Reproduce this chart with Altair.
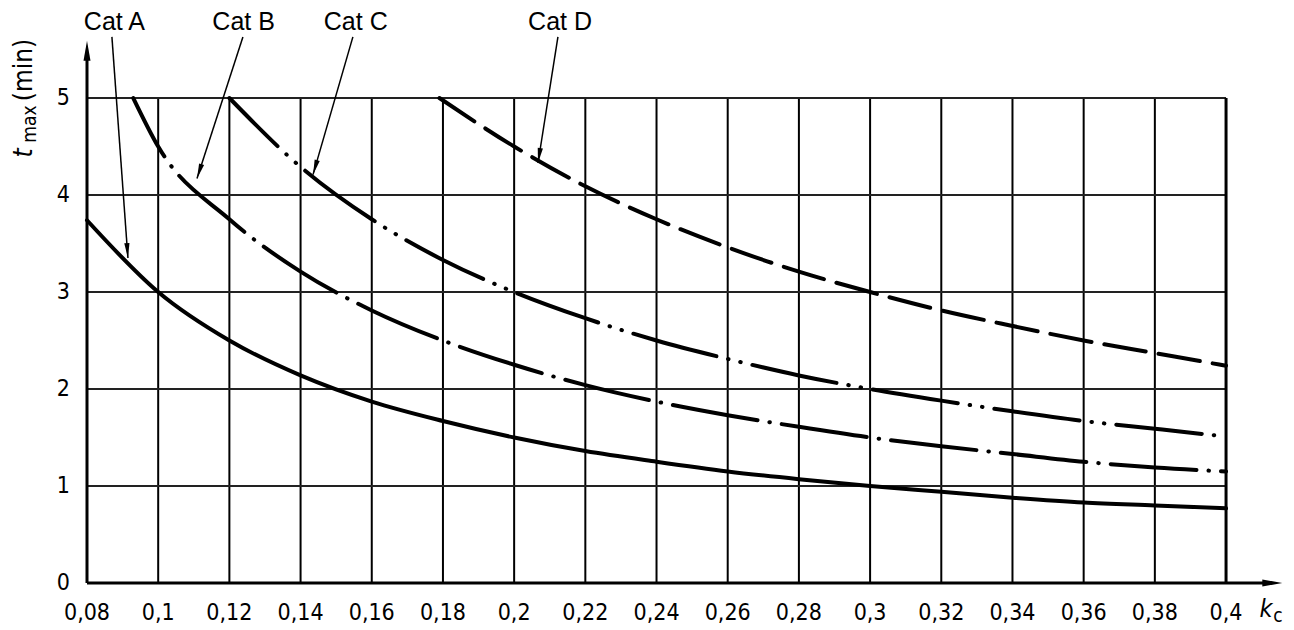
import math
import altair as alt
import pandas as pd

# ---------------- data ----------------
x_ticks = [0.08, 0.10, 0.12, 0.14, 0.16, 0.18, 0.20, 0.22, 0.24, 0.26,
           0.28, 0.30, 0.32, 0.34, 0.36, 0.38, 0.40]
y_ticks = [0, 1, 2, 3, 4, 5]

x_a = [0.08, 0.10, 0.12, 0.14, 0.16, 0.18, 0.20, 0.22, 0.24, 0.26,
       0.28, 0.30, 0.32, 0.34, 0.36, 0.38, 0.40]
t_a = [3.74, 3.0, 2.5, 2.14, 1.87, 1.67, 1.5, 1.36, 1.25, 1.15,
       1.07, 1.0, 0.94, 0.88, 0.83, 0.8, 0.77]

x_b = [0.093, 0.10, 0.12, 0.14, 0.16, 0.18, 0.20, 0.22, 0.24, 0.26,
       0.28, 0.30, 0.32, 0.34, 0.36, 0.38, 0.40]
t_b = [5.0, 4.5, 3.75, 3.21, 2.81, 2.5, 2.25, 2.04, 1.87, 1.73,
       1.61, 1.5, 1.41, 1.33, 1.25, 1.19, 1.15]

x_c = [0.12, 0.14, 0.16, 0.18, 0.20, 0.22, 0.24, 0.26, 0.28, 0.30,
       0.32, 0.34, 0.36, 0.38, 0.40]
t_c = [5.0, 4.29, 3.75, 3.33, 3.0, 2.73, 2.5, 2.31, 2.14, 2.0,
       1.88, 1.77, 1.67, 1.59, 1.51]

x_d = [0.179, 0.20, 0.22, 0.24, 0.26, 0.28, 0.30, 0.32, 0.34, 0.36, 0.38, 0.40]
t_d = [5.0, 4.5, 4.09, 3.75, 3.46, 3.21, 3.0, 2.81, 2.65, 2.5, 2.37, 2.24]

cat_names = ["Cat A", "Cat B", "Cat C", "Cat D"]
label_x = [0.0877, 0.1240, 0.1555, 0.2129]
label_y = [5.70, 5.70, 5.70, 5.70]
lead_x0 = [0.0870, 0.1238, 0.1547, 0.2123]
lead_y0 = [5.63, 5.63, 5.63, 5.63]
lead_x1 = [0.0915, 0.1109, 0.1435, 0.2067]
lead_y1 = [3.35, 4.17, 4.21, 4.33]

# ---------------- layout ----------------
W, H = 1196, 575
X_DOM = [0.08, 0.416]
Y_DOM = [0, 5.928]
SX = W / (X_DOM[1] - X_DOM[0])
SY = H / (Y_DOM[1] - Y_DOM[0])

xs = alt.Scale(domain=X_DOM, nice=False, zero=False)
ys = alt.Scale(domain=Y_DOM, nice=False, zero=False)
ARROW = "M0,0L0.35,2L-0.35,2Z"
TICK_FONT = "DejaVu Sans Condensed, DejaVu Sans"


def X(f="x"):
    return alt.X(f"{f}:Q", scale=xs, axis=None)


def Y(f="y"):
    return alt.Y(f"{f}:Q", scale=ys, axis=None)


# grid
vgrid = pd.DataFrame({"x": x_ticks[1:-1], "y": 0, "y2": 5})
hgrid = pd.DataFrame({"y": y_ticks[1:], "x": x_ticks[0], "x2": x_ticks[-1]})
frame = pd.DataFrame({"x": [x_ticks[-1]], "y": [0], "y2": [5]})

vg = alt.Chart(vgrid).mark_rule(color="black", strokeWidth=2).encode(
    x=X(), y=Y(), y2="y2:Q")
hg = alt.Chart(hgrid).mark_rule(color="#222", strokeWidth=1.8).encode(
    y=Y(), x=X(), x2="x2:Q")
fr = alt.Chart(frame).mark_rule(color="black", strokeWidth=3).encode(
    x=X(), y=Y(), y2="y2:Q")

# tick labels placed through the scales
xlab = pd.DataFrame({"x": x_ticks, "y": 0,
                     "s": [f"{v:g}".replace(".", ",") for v in x_ticks]})
ylab = pd.DataFrame({"x": x_ticks[0], "y": y_ticks, "s": [str(v) for v in y_ticks]})
xl = alt.Chart(xlab).mark_text(font=TICK_FONT, fontSize=23, color="black",
                               baseline="top", align="center", dy=19).encode(
    x=X(), y=Y(), text="s:N")
yl = alt.Chart(ylab).mark_text(font=TICK_FONT, fontSize=23, color="black",
                               baseline="middle", align="right", dx=-17).encode(
    x=X(), y=Y(), text="s:N")

# axes lines + arrows
yaxis = pd.DataFrame({"x": [0.08], "y": [0], "y2": [5.45]})
xaxis = pd.DataFrame({"y": [0], "x": [0.08], "x2": [0.412]})
ya = alt.Chart(yaxis).mark_rule(color="black", strokeWidth=3).encode(
    x=X(), y=Y(), y2="y2:Q")
xa = alt.Chart(xaxis).mark_rule(color="black", strokeWidth=3).encode(
    y=Y(), x=X(), x2="x2:Q")
axis_heads = pd.DataFrame({"x": [0.08, 0.4158], "y": [5.59, 0], "angle": [0, 90]})
ah = alt.Chart(axis_heads).mark_point(shape=ARROW, filled=True, size=400,
                                      color="black", opacity=1, strokeWidth=0).encode(
    x=X(), y=Y(), angle=alt.Angle("angle:Q", scale=None))

# curves
dfa = pd.DataFrame({"x": x_a, "y": t_a})
dfb = pd.DataFrame({"x": x_b, "y": t_b})
dfc = pd.DataFrame({"x": x_c, "y": t_c})
dfd = pd.DataFrame({"x": x_d, "y": t_d})

line_kw = dict(color="black", strokeWidth=4, strokeCap="round", interpolate="monotone")
ca = alt.Chart(dfa).mark_line(**line_kw).encode(x=X(), y=Y(), order="x:Q")
cb = alt.Chart(dfb).mark_line(strokeDash=[86, 12, 0.5, 12], strokeDashOffset=20, **line_kw).encode(
    x=X(), y=Y(), order="x:Q")
cc = alt.Chart(dfc).mark_line(strokeDash=[86, 12, 0.5, 12, 0.5, 12], strokeDashOffset=18,
                              **line_kw).encode(x=X(), y=Y(), order="x:Q")
cd = alt.Chart(dfd).mark_line(strokeDash=[42, 13], **line_kw).encode(
    x=X(), y=Y(), order="x:Q")

# annotations
angles = []
for x0, y0, x1, y1 in zip(lead_x0, lead_y0, lead_x1, lead_y1):
    dx = (x1 - x0) * SX
    dy = (y0 - y1) * SY
    angles.append(math.degrees(math.atan2(dx, -dy)) % 360)

leads = pd.DataFrame({"x": lead_x0, "y": lead_y0, "x2": lead_x1, "y2": lead_y1,
                      "angle": angles})
ld = alt.Chart(leads).mark_rule(color="black", strokeWidth=1.5).encode(
    x=X(), y=Y(), x2="x2:Q", y2="y2:Q")
lh = alt.Chart(leads).mark_point(shape=ARROW, filled=True, size=225, color="black",
                                 opacity=1, strokeWidth=0).encode(
    x=X("x2"), y=Y("y2"), angle=alt.Angle("angle:Q", scale=None))

labels = pd.DataFrame({"x": label_x, "y": label_y, "name": cat_names})
lt = alt.Chart(labels).mark_text(font="Liberation Sans", fontSize=25, color="black",
                                 baseline="alphabetic", align="center").encode(
    x=X(), y=Y(), text="name:N")


# axis titles (t_max (min), k_c)
def txt(s, px, py, size, style="normal", angle=0):
    return alt.Chart(pd.DataFrame({"s": [s]})).mark_text(
        font=TICK_FONT, fontSize=size, fontStyle=style, color="black",
        baseline="alphabetic", align="center", angle=angle).encode(
        x=alt.value(px), y=alt.value(py), text="s:N")


yt1 = txt("t", -55, 145, 26, "italic", 270)
yt2 = txt("max", -51, 116, 19, "normal", 270)
yt3 = txt("(min)", -55, 62, 26, "normal", 270)
kt1 = txt("k", 1179, 609, 25, "italic")
kt2 = txt("c", 1191, 614, 19, "normal")

chart = alt.layer(vg, hg, fr, ya, xa, ah, cd, cc, cb, ca, ld, lh, lt, xl, yl,
                  yt1, yt2, yt3, kt1, kt2).properties(
    width=W, height=H,
    padding={"left": 79, "top": 0, "right": 0, "bottom": 46},
    autosize=alt.AutoSizeParams(type="none"),
    background="white",
).configure_view(stroke=None)

chart.save("out.html", embed_options={"renderer": "svg", "actions": False})
